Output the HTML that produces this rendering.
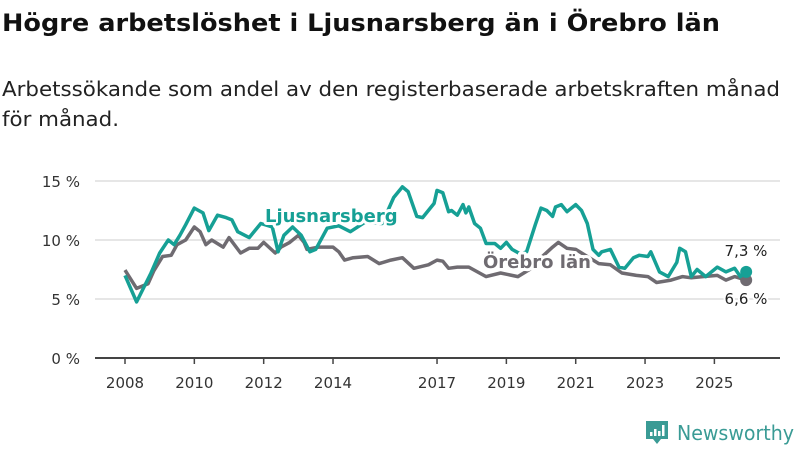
<!DOCTYPE html>
<html><head><meta charset="utf-8"><style>
body{margin:0;background:#fff;width:800px;height:450px;overflow:hidden;font-family:"Liberation Sans",sans-serif}
svg text{font-family:"DejaVu Sans","Liberation Sans",sans-serif}
</style></head><body>
<svg width="800" height="450" viewBox="0 0 800 450">
<text x="2" y="31" font-size="24" font-weight="bold" fill="#111" textLength="718" lengthAdjust="spacingAndGlyphs">Högre arbetslöshet i Ljusnarsberg än i Örebro län</text>
<text x="2" y="96" font-size="20" fill="#222" textLength="778" lengthAdjust="spacingAndGlyphs">Arbetssökande som andel av den registerbaserade arbetskraften månad</text>
<text x="2" y="126" font-size="20" fill="#222" textLength="117" lengthAdjust="spacingAndGlyphs">för månad.</text>
<g id="grid"></g>
<g id="xaxis"></g>
<g id="series"></g>
<g id="labels"></g>
<g>
<path d="M646 421h22v18h-7l-4 5-4-5h-7z" fill="#3a9b95"/>
<rect x="650" y="432" width="2.5" height="4" fill="#fff"/><rect x="654" y="429" width="2.5" height="7" fill="#fff"/><rect x="658" y="431" width="2.5" height="5" fill="#fff"/><rect x="662" y="425" width="2.5" height="11" fill="#fff"/>
<text x="677" y="440" font-size="20" fill="#3a9b95" textLength="117" lengthAdjust="spacingAndGlyphs">Newsworthy</text>
</g>
</svg>
<script>
const yTicks=[0,5,10,15];
const xTickYears=[2008,2010,2012,2014,2017,2019,2021,2023,2025];
const ljusMonths=[0,4,9,12,15,17,19,21,24,27,29,32,35,37,39,43,47,51,53,55,58,61,64,66,70,74,78,83,89,93,96,98,101,103,107,108,110,112,113,115,117,118,119,121,123,125,128,130,132,134,137,139,142,144,146,148,149,151,153,156,158,160,162,164,165,168,171,173,176,178,181,182,185,188,191,192,194,196,198,201,205,208,211,213,215];
const ljusValues=[7.0,4.75,7.2,8.9,10.0,9.6,10.4,11.3,12.7,12.3,10.8,12.1,11.9,11.7,10.7,10.2,11.4,11.1,9.0,10.4,11.1,10.4,9.0,9.2,11.0,11.2,10.7,11.5,11.4,13.6,14.5,14.1,12.0,11.9,13.1,14.2,14.0,12.4,12.5,12.1,13.0,12.3,12.8,11.4,11.0,9.7,9.7,9.3,9.8,9.2,8.8,9.0,11.3,12.7,12.5,12.0,12.8,13.0,12.4,13.0,12.5,11.4,9.2,8.7,9.0,9.2,7.7,7.6,8.5,8.7,8.6,9.0,7.3,6.9,8.1,9.3,9.0,6.9,7.5,6.9,7.7,7.3,7.6,6.9,7.3];
const oreMonths=[0,4,8,10,13,16,18,21,24,26,28,30,34,36,40,43,46,48,52,54,57,60,62,63,67,72,74,76,79,84,88,92,96,100,105,108,110,112,115,119,125,130,136,140,144,148,150,153,156,164,168,172,177,181,184,189,193,196,200,205,208,211,215];
const oreValues=[7.45,5.9,6.3,7.4,8.6,8.7,9.6,10.0,11.1,10.7,9.6,10.0,9.4,10.2,8.9,9.3,9.3,9.8,8.9,9.4,9.8,10.4,9.8,9.2,9.4,9.4,9.0,8.3,8.5,8.6,8.0,8.3,8.5,7.6,7.9,8.3,8.2,7.6,7.7,7.7,6.9,7.2,6.9,7.5,8.5,9.4,9.8,9.3,9.2,8.0,7.9,7.2,7.0,6.9,6.4,6.6,6.9,6.8,6.9,7.0,6.6,6.9,6.6];
const lastLabels=["7,3 %","6,6 %"];
const NS="http://www.w3.org/2000/svg";
const X=m=>125+m/12*34.67;
const Y=v=>358-v*11.8;
function mk(t,a,p){const e=document.createElementNS(NS,t);for(const k in a)e.setAttribute(k,a[k]);p.appendChild(e);return e;}
const grid=document.getElementById('grid');
yTicks.forEach(v=>{
 const l=mk('line',{x1:95,x2:780,y1:Y(v),y2:Y(v),stroke:v===0?'#444':'#ddd','stroke-width':v===0?2:1.5},grid);
 
 
 const t=mk('text',{x:80,y:Y(v)+6,'text-anchor':'end','font-size':15,fill:'#333'},grid);
 t.textContent=v+' %';
 
 
});
const xa=document.getElementById('xaxis');
xTickYears.forEach(yr=>{
 const x=X((yr-2008)*12);
 const tk=mk('line',{x1:x,x2:x,y1:358,y2:364,stroke:'#444','stroke-width':1.5},xa);
 
 
 const t=mk('text',{x:x,y:388,'text-anchor':'middle','font-size':15,fill:'#333'},xa);
 t.textContent=yr;
 
 
});
const sg=document.getElementById('series');
function line(ms,vs,col,name){
 const d=ms.map((m,i)=>(i?'L':'M')+X(m).toFixed(1)+' '+Y(vs[i]).toFixed(1)).join('');
 const p=mk('path',{d:d,fill:'none',stroke:col,'stroke-width':3.5,'stroke-linejoin':'round'},sg);
 
 
 const c=mk('circle',{cx:X(ms[ms.length-1]),cy:Y(vs[vs.length-1]),r:6,fill:col},sg);
 
 
}
line(oreMonths,oreValues,'#6f6b71','orebro');
line(ljusMonths,ljusValues,'#16a095','ljusnarsberg');
const lg=document.getElementById('labels');
function lbl(x,y,txt,col,name,size,bold,anchor){
 const t=mk('text',{x:x,y:y,'font-size':size,'font-weight':bold?'bold':'normal',fill:col,stroke:'#fff','stroke-width':bold?6:4,'paint-order':'stroke','stroke-linejoin':'round','text-anchor':anchor||'start'},lg);
 t.textContent=txt;
 
 
}
lbl(265,222,'Ljusnarsberg','#16a095','ljusnarsberg-label',18,true);
lbl(483,268,'Örebro län','#6f6b71','orebro-label',18,true);
lbl(746,256,lastLabels[0],'#222','ljusnarsberg-last-value',15,false,'middle');
lbl(746,304,lastLabels[1],'#222','orebro-last-value',15,false,'middle');
</script>
</body></html>
